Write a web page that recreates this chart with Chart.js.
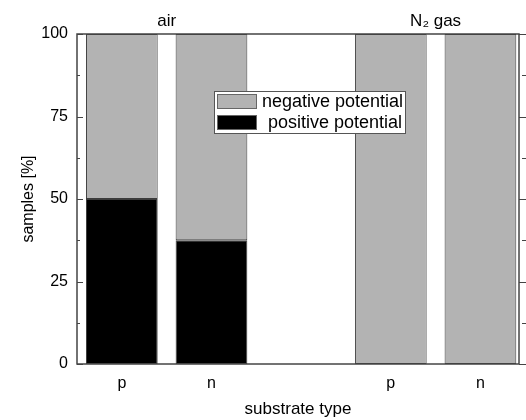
<!DOCTYPE html>
<html>
<head>
<meta charset="utf-8">
<script src="https://cdn.jsdelivr.net/npm/chart.js@4.4.1/dist/chart.umd.min.js"></script>
<style>
  html, body { margin: 0; padding: 0; background: #fff; }
</style>
</head>
<body>
<canvas id="myChart" width="526" height="420"></canvas>
<script>
// categories along the x axis (the empty one is the gap between groups)
const substrates = ['p', 'n', '', 'p', 'n'];
// group labels on top and the slots they span (1-based)
const atmospheres = ['air', 'N\u2082 gas'];
const atmosphereSlots = [[1, 2], [4, 5]];
// share of samples in %
const positive = [50, 37.5, null, 0, 0];
const negative = [50, 62.5, null, 100, 100];
// y axis ticks
const yTicks = [0, 25, 50, 75, 100];
const yMinorTicks = [12.5, 37.5, 62.5, 87.5];

const slots = substrates.map((s, i) => i + 1);
const toPoints = values => values.map((v, i) => ({ x: i + 1, y: v })).filter(p => p.y !== null);
const groupCenters = atmosphereSlots.map(s => (s[0] + s[s.length - 1]) / 2);

const FONT = 'Arial, "Liberation Sans", sans-serif';
const GRAY = '#b3b3b3';
const EDGE = '#3c3c3c';

// frame + inward ticks like the original plot
const framePlugin = {
    id: 'frame',
    afterDatasetsDraw(chart) {
        const ctx = chart.ctx;
        const a = chart.chartArea;
        const y = chart.scales.y;
        ctx.save();
        ctx.strokeStyle = '#444';
        ctx.lineWidth = 1.5;
        ctx.strokeRect(a.left, a.top, a.right - a.left, a.bottom - a.top);
        ctx.lineWidth = 1;
        ctx.beginPath();
        yTicks.forEach(v => {
            const py = Math.round(y.getPixelForValue(v)) + 0.5;
            ctx.moveTo(a.left, py); ctx.lineTo(a.left + 6, py);
            ctx.moveTo(a.right, py); ctx.lineTo(a.right + 7, py);
        });
        yMinorTicks.forEach(v => {
            const py = Math.round(y.getPixelForValue(v)) + 0.5;
            ctx.moveTo(a.left, py); ctx.lineTo(a.left + 3, py);
            ctx.moveTo(a.right + 3, py); ctx.lineTo(a.right + 7, py);
        });
        ctx.stroke();
        ctx.restore();
    }
};

// boxed legend inside the plot, top item = top segment
const boxLegendPlugin = {
    id: 'boxLegend',
    afterDraw(chart, args, opts) {
        const ctx = chart.ctx;
        const items = chart.data.datasets.slice().reverse();
        ctx.save();
        ctx.fillStyle = '#fff';
        ctx.fillRect(opts.left, opts.top, opts.width, opts.height);
        ctx.strokeStyle = '#555';
        ctx.lineWidth = 1;
        ctx.strokeRect(opts.left + 0.5, opts.top + 0.5, opts.width, opts.height);
        ctx.font = opts.fontSize + 'px ' + FONT;
        ctx.textBaseline = 'middle';
        items.forEach((ds, i) => {
            const ty = opts.top + 3 + i * 21;
            ctx.fillStyle = ds.backgroundColor;
            ctx.fillRect(opts.left + 3, ty, 40, 15);
            ctx.strokeStyle = '#666';
            ctx.strokeRect(opts.left + 3.5, ty + 0.5, 39, 14);
            ctx.fillStyle = '#000';
            ctx.fillText(ds.label, opts.left + 48 + (i === 1 ? 6 : 0), ty + 8);
        });
        ctx.restore();
    }
};

const ctx = document.getElementById('myChart').getContext('2d');
new Chart(ctx, {
    type: 'bar',
    data: {
        datasets: [
            {
                label: 'positive potential',
                data: toPoints(positive),
                backgroundColor: '#000',
                borderColor: EDGE,
                borderWidth: 1,
                borderSkipped: false
            },
            {
                label: 'negative potential',
                data: toPoints(negative),
                backgroundColor: GRAY,
                borderColor: EDGE,
                borderWidth: 1,
                borderSkipped: false
            }
        ]
    },
    options: {
        responsive: false,
        animation: false,
        layout: { padding: { left: 0, right: 7, top: 0, bottom: 0 } },
        datasets: { bar: { categoryPercentage: 1, barPercentage: 0.8 } },
        plugins: {
            legend: { display: false },
            tooltip: { enabled: false },
            boxLegend: { left: 214, top: 91, width: 191, height: 42, fontSize: 18 }
        },
        scales: {
            x: {
                type: 'linear',
                position: 'bottom',
                stacked: true,
                offset: false,
                min: 0.5,
                max: 5.43,
                grid: { display: false, drawTicks: false, offset: false },
                border: { display: false },
                afterBuildTicks: s => { s.ticks = slots.map(v => ({ value: v })); },
                ticks: {
                    callback: v => substrates[v - 1],
                    color: '#000',
                    font: { family: FONT, size: 16 },
                    padding: 10,
                    maxRotation: 0,
                    autoSkip: false
                },
                title: {
                    display: true,
                    text: 'substrate type',
                    color: '#000',
                    font: { family: FONT, size: 17 },
                    padding: { top: 0, bottom: 0 }
                },
                afterFit: s => { s.height = 56; }
            },
            xTop: {
                type: 'linear',
                position: 'top',
                offset: false,
                min: 0.5,
                max: 5.43,
                grid: { display: false, drawTicks: false, offset: false },
                border: { display: false },
                afterBuildTicks: s => { s.ticks = groupCenters.map(v => ({ value: v })); },
                ticks: {
                    callback: (v, i) => atmospheres[i],
                    color: '#000',
                    font: { family: FONT, size: 17 },
                    padding: 2,
                    maxRotation: 0,
                    autoSkip: false
                },
                afterFit: s => { s.height = 34; }
            },
            y: {
                stacked: true,
                min: 0,
                max: 100,
                grid: { display: false, drawTicks: false },
                border: { display: false },
                afterBuildTicks: s => { s.ticks = yTicks.map(v => ({ value: v })); },
                ticks: {
                    color: '#000',
                    font: { family: FONT, size: 16 },
                    padding: 9
                },
                title: {
                    display: true,
                    text: 'samples [%]',
                    color: '#000',
                    font: { family: FONT, size: 16 },
                    padding: { top: 19, bottom: 0 }
                },
                afterFit: s => { s.width = 77; }
            }
        }
    },
    plugins: [framePlugin, boxLegendPlugin]
});
</script>
</body>
</html>
